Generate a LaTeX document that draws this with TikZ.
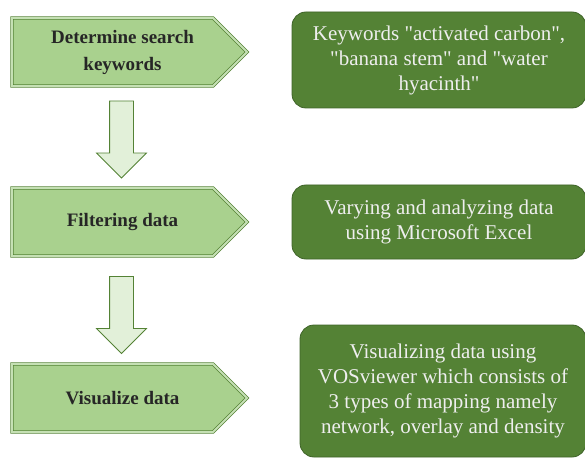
\documentclass[tikz,border=0pt]{standalone}
\usepackage{fontspec}
\setmainfont{Liberation Serif}
\usetikzlibrary{shapes.arrows,shapes.symbols}

\definecolor{leafdark}{HTML}{548235}
\definecolor{leafdeep}{HTML}{3E6328}
\definecolor{leaflight}{HTML}{A9D18E}
\definecolor{leafpale}{HTML}{E2F0D9}
\definecolor{leafbevel}{HTML}{C5E0B4}
\definecolor{notetext}{HTML}{EEEEEE}

\begin{document}
\begin{tikzpicture}[x=1pt,y=1pt,
every node/.style={
align=center,
outer sep=0pt,
},
stepsig/.style={
signal,signal to=east,signal pointer angle=90,
draw=leafdark,double=leafbevel,double distance=1.8pt,line width=0.8pt,
fill=leaflight,inner sep=0pt,
minimum width=235pt,minimum height=68pt,anchor=west,
},
steptext/.style={
font=\fontsize{19}{27}\selectfont\bfseries,text=black!85,
},
note/.style={
rectangle,rounded corners=14pt,draw=leafdeep,line width=0.8pt,
fill=leafdark,text=notetext,anchor=south west,inner sep=0pt,
font=\fontsize{21}{25}\selectfont,
},
downarrow/.style={
single arrow,shape border rotate=270,draw=leafdark,line width=0.8pt,
fill=leafpale,inner sep=11.5pt,
minimum width=49pt,single arrow head extend=13pt,minimum height=77pt,
}]
\useasboundingbox (0,0) rectangle (585,458);

%left steps
\node[stepsig] (search) at (12,406) {};
\node[steptext] at ([xshift=10pt]search.center) {Determine search\\keywords};
\node[stepsig] (filter) at (12,236) {};
\node[steptext] at ([xshift=10pt]filter.center) {Filtering data};
\node[stepsig] (visual) at (12,60) {};
\node[steptext] at ([xshift=10pt]visual.center) {Visualize data};

%arrows between steps
\node[downarrow] (down1) at (121.5,324.5) {};
\node[downarrow] (down2) at (121.5,149) {};

%right notes
\node[note,minimum width=294pt,minimum height=96pt] (keynote) at (292,350)
{Keywords \textquotedbl activated carbon\textquotedbl,\\\textquotedbl banana stem\textquotedbl{} and \textquotedbl water\\hyacinth\textquotedbl};
\node[note,minimum width=294pt,minimum height=74pt] (excelnote) at (292,199)
{Varying and analyzing data\\using Microsoft Excel};
\node[note,minimum width=286pt,minimum height=132pt] (vosnote) at (300,1)
{Visualizing data using\\VOSviewer which consists of\\3 types of mapping namely\\network, overlay and density};
\end{tikzpicture}
\end{document}
